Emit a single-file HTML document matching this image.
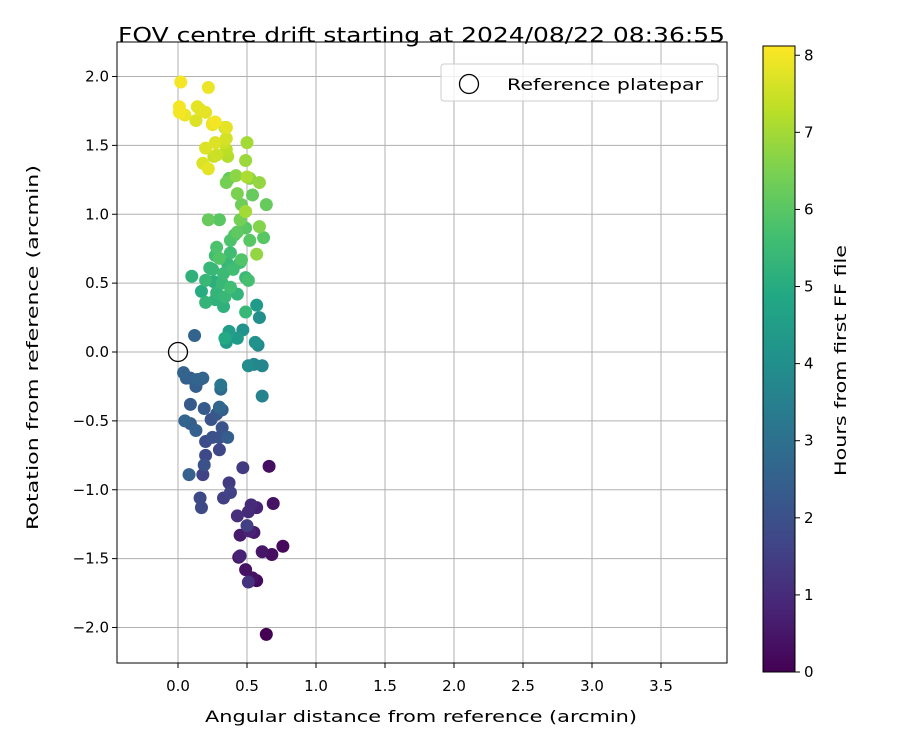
<!DOCTYPE html>
<html><head><meta charset="utf-8"><style>
body{margin:0;background:#fff;}
svg text{font-family:"DejaVu Sans","Liberation Sans",sans-serif;fill:#000;}
</style></head><body>
<svg id="chart" width="900" height="750" xmlns="http://www.w3.org/2000/svg">
<defs><linearGradient id="vir" x1="0" y1="1" x2="0" y2="0">
<stop offset="0" stop-color="#440154"/><stop offset="0.1" stop-color="#482475"/><stop offset="0.2" stop-color="#414487"/><stop offset="0.3" stop-color="#355f8d"/><stop offset="0.4" stop-color="#2a788e"/><stop offset="0.5" stop-color="#21918c"/><stop offset="0.6" stop-color="#22a884"/><stop offset="0.7" stop-color="#44bf70"/><stop offset="0.8" stop-color="#7ad151"/><stop offset="0.9" stop-color="#bddf26"/><stop offset="1" stop-color="#fde725"/>
</linearGradient></defs>
<g id="grid"></g>
<g id="pts"></g>
<rect x="117" y="42" width="610" height="621" fill="none" stroke="#000" stroke-width="1"/>
<g id="axes"></g>
<text x="118" y="42" textLength="607" lengthAdjust="spacingAndGlyphs" font-size="20">FOV centre drift starting at 2024/08/22 08:36:55</text>
<text x="205" y="722" textLength="432" lengthAdjust="spacingAndGlyphs" font-size="16">Angular distance from reference (arcmin)</text>
<text transform="translate(38,530) rotate(-90)" textLength="365" lengthAdjust="spacingAndGlyphs" font-size="16">Rotation from reference (arcmin)</text>
<g>
<rect x="441" y="64" width="277" height="37" rx="3" fill="#fff" fill-opacity="0.8" stroke="#ccc"/>
<circle cx="469" cy="84" r="9.5" fill="none" stroke="#000" stroke-width="1.3"/>
<text x="507" y="90" textLength="196" lengthAdjust="spacingAndGlyphs" font-size="16">Reference platepar</text>
</g>
<rect x="763" y="46" width="32" height="626" fill="url(#vir)" stroke="#000" stroke-width="1"/>
<g id="cb"></g>
<text transform="translate(846,476) rotate(-90)" textLength="231" lengthAdjust="spacingAndGlyphs" font-size="16">Hours from first FF file</text>
</svg>
<script>
const xs=[0.02,0.22,0.01,0.05,0.01,0.14,0.20,0.25,0.27,0.35,0.27,0.35,0.16,0.20,0.28,0.35,0.26,0.18,0.22,0.36,0.35,0.33,0.25,0.13,0.50,0.49,0.50,0.52,0.59,0.54,0.43,0.45,0.59,0.35,0.42,0.46,0.34,0.37,0.64,0.57,0.49,0.30,0.22,0.62,0.43,0.49,0.41,0.52,0.38,0.28,0.30,0.25,0.38,0.33,0.45,0.40,0.46,0.49,0.27,0.36,0.23,0.32,0.34,0.38,0.43,0.51,0.20,0.20,0.10,0.28,0.33,0.49,0.34,0.27,0.17,0.26,0.37,0.43,0.35,0.47,0.57,0.59,0.58,0.56,0.55,0.51,0.61,0.61,0.12,0.04,0.06,0.09,0.16,0.18,0.13,0.14,0.31,0.31,0.32,0.30,0.09,0.05,0.09,0.13,0.19,0.24,0.28,0.32,0.25,0.30,0.36,0.20,0.30,0.20,0.19,0.18,0.08,0.47,0.38,0.33,0.37,0.16,0.17,0.43,0.50,0.45,0.52,0.55,0.53,0.57,0.66,0.69,0.51,0.54,0.44,0.49,0.61,0.68,0.76,0.57,0.64,0.45,0.51];
const ys=[1.96,1.92,1.78,1.72,1.74,1.78,1.74,1.66,1.67,1.63,1.52,1.55,1.76,1.48,1.43,1.47,1.42,1.37,1.33,1.42,1.63,1.52,1.65,1.68,1.52,1.39,1.27,1.26,1.23,1.14,1.15,0.96,0.91,1.23,1.28,1.07,1.63,1.26,1.07,0.71,1.02,0.96,0.96,0.83,0.87,0.90,0.85,0.81,0.81,0.76,0.68,0.60,0.72,0.57,0.65,0.60,0.67,0.54,0.70,0.64,0.61,0.50,0.40,0.47,0.42,0.52,0.52,0.36,0.55,0.43,0.33,0.29,0.10,0.38,0.44,0.51,0.15,0.10,0.07,0.16,0.34,0.25,0.05,0.07,-0.09,-0.10,-0.10,-0.32,0.12,-0.15,-0.19,-0.19,-0.20,-0.19,-0.25,-0.20,-0.24,-0.27,-0.42,-0.40,-0.38,-0.50,-0.52,-0.57,-0.41,-0.49,-0.45,-0.55,-0.62,-0.62,-0.62,-0.65,-0.71,-0.75,-0.82,-0.89,-0.89,-0.84,-1.02,-1.06,-0.95,-1.06,-1.13,-1.19,-1.26,-1.33,-1.30,-1.31,-1.11,-1.13,-0.83,-1.10,-1.67,-1.64,-1.49,-1.58,-1.45,-1.47,-1.41,-1.66,-2.05,-1.48,-1.16];
const hours=[8,7.9,8,7.9,8,7.8,7.8,7.9,8,7.8,7.7,7.6,7.8,7.7,7.5,7.3,7.4,7.7,7.8,7.2,7.5,7.5,7.9,7.7,7.0,6.9,7.1,6.6,6.8,6.2,6.5,6.4,6.6,6.4,6.7,6.3,7.3,6.2,6.2,6.8,7.0,6.0,6.2,6.0,6.1,6.0,5.9,6.0,5.8,5.8,5.9,5.4,5.6,5.5,5.6,5.6,5.9,5.5,5.6,5.4,5.4,5.4,5.4,5.6,5.3,5.7,5.4,5.3,5.2,5.3,5.2,5.4,4.9,5.2,5.0,5.1,4.5,4.4,4.4,4.1,4.4,4.0,3.8,4.1,3.7,3.9,3.7,3.6,2.6,2.6,2.5,2.4,2.5,2.6,2.4,2.6,3.2,2.8,2.4,2.7,2.3,2.6,2.4,2.5,2.3,2.1,2.2,2.1,2.0,2.0,2.4,1.9,1.7,1.8,2.0,1.6,2.5,1.4,1.6,1.5,1.4,1.8,1.8,1.1,1.5,0.6,0.8,0.6,1.0,0.8,0.3,0.4,1.2,0.4,0.5,0.4,0.5,0.3,0.2,0.2,0.0,0.8,1.0];
const xTicks=[0,0.5,1,1.5,2,2.5,3,3.5];
const yTicks=[-2,-1.5,-1,-0.5,0,0.5,1,1.5,2];
const cTicks=[0,1,2,3,4,5,6,7,8];
const NS="http://www.w3.org/2000/svg";
const X=v=>178+v*138, Y=v=>352-v*137.75, C=v=>672-v*(626/8.12);
const stops=["#440154","#482475","#414487","#355f8d","#2a788e","#21918c","#22a884","#44bf70","#7ad151","#bddf26","#fde725"];
function hex(c){return [1,3,5].map(i=>parseInt(c.substr(i,2),16));}
function vir(t){t=Math.max(0,Math.min(1,t))*10;const i=Math.min(9,Math.floor(t)),f=t-i;const a=hex(stops[i]),b=hex(stops[i+1]);return "rgb("+a.map((v,k)=>Math.round(v+(b[k]-v)*f)).join(",")+")";}
function mk(tag,attrs,parent){const e=document.createElementNS(NS,tag);for(const k in attrs)e.setAttribute(k,attrs[k]);parent.appendChild(e);return e;}
const grid=document.getElementById('grid'),axes=document.getElementById('axes'),pts=document.getElementById('pts'),cb=document.getElementById('cb');
xTicks.forEach(t=>{const x=X(t);
const g=mk('line',{x1:x,x2:x,y1:42,y2:663,stroke:'#b0b0b0','stroke-width':1},grid);


mk('line',{x1:x,x2:x,y1:663,y2:668,stroke:'#000'},axes);
const tx=mk('text',{x:x,y:691,'text-anchor':'middle','font-size':15},axes);tx.textContent=t.toFixed(1);

});
yTicks.forEach(t=>{const y=Y(t);
const g=mk('line',{x1:117,x2:727,y1:y,y2:y,stroke:'#b0b0b0','stroke-width':1},grid);


mk('line',{x1:112,x2:117,y1:y,y2:y,stroke:'#000'},axes);
const tx=mk('text',{x:109,y:y+5,'text-anchor':'end','font-size':15},axes);tx.textContent=(t<0?"\u2212":"")+Math.abs(t).toFixed(1);

});
const idx=hours.map((h,i)=>i).sort((a,b)=>hours[a]-hours[b]);
idx.forEach(i=>{const c=mk('circle',{cx:X(xs[i]),cy:Y(ys[i]),r:6.5,fill:vir(hours[i]/8.12)},pts);

});
const ref=mk('circle',{cx:X(0),cy:Y(0),r:9.5,fill:'none',stroke:'#000','stroke-width':1.3},pts);


cTicks.forEach(t=>{const y=C(t);
mk('line',{x1:795,x2:800,y1:y,y2:y,stroke:'#000'},cb);
const tx=mk('text',{x:804,y:y+5,'font-size':15},cb);tx.textContent=t;

});
</script>
</body></html>
